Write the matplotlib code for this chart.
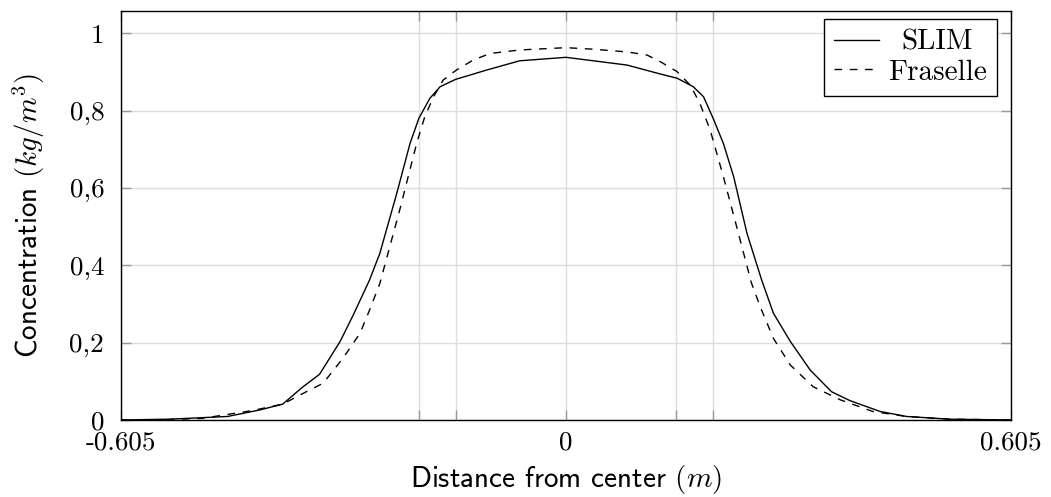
import matplotlib
matplotlib.use("Agg")
import matplotlib.pyplot as plt

# SLIM profile
slim_x = [-0.605, -0.54, -0.46, -0.416, -0.385, -0.358, -0.335, -0.307, -0.289, -0.267,
          -0.253, -0.230, -0.212, -0.200, -0.185, -0.171, -0.150, -0.108, -0.063, 0.0,
          0.083, 0.128, 0.151, 0.173, 0.187, 0.201, 0.214, 0.228, 0.246, 0.266,
          0.282, 0.305, 0.332, 0.361, 0.386, 0.427, 0.463, 0.522, 0.605]
slim_y = [0.0, 0.002, 0.009, 0.026, 0.041, 0.085, 0.118, 0.203, 0.272, 0.362,
          0.431, 0.586, 0.715, 0.780, 0.832, 0.862, 0.881, 0.905, 0.929, 0.938,
          0.918, 0.895, 0.884, 0.862, 0.836, 0.776, 0.715, 0.629, 0.483, 0.362,
          0.276, 0.203, 0.129, 0.073, 0.050, 0.022, 0.009, 0.002, 0.0]

# Fraselle profile
fras_x = [-0.605, -0.54, -0.495, -0.427, -0.385, -0.353, -0.330, -0.303, -0.280, -0.267,
          -0.253, -0.226, -0.203, -0.192, -0.180, -0.167, -0.149, -0.126, -0.103, -0.063,
          0.0, 0.037, 0.083, 0.110, 0.128, 0.151, 0.169, 0.182, 0.196, 0.214,
          0.232, 0.252, 0.264, 0.282, 0.305, 0.336, 0.373, 0.417, 0.463, 0.522, 0.605]
fras_y = [0.0, 0.001, 0.004, 0.024, 0.041, 0.073, 0.095, 0.160, 0.224, 0.284,
          0.353, 0.543, 0.715, 0.784, 0.836, 0.879, 0.905, 0.931, 0.948, 0.957,
          0.963, 0.959, 0.952, 0.944, 0.927, 0.901, 0.866, 0.819, 0.750, 0.629,
          0.500, 0.355, 0.293, 0.211, 0.142, 0.086, 0.052, 0.022, 0.009, 0.002, 0.0]

xticks = [-0.605, -0.2, -0.15, 0, 0.15, 0.2, 0.605]
xtick_labels = ["-0.605", "", "", "0", "", "", "0.605"]
yticks = [0, 0.2, 0.4, 0.6, 0.8, 1.0]
ytick_labels = ["0", "0,2", "0,4", "0,6", "0,8", "1"]

plt.rcParams["mathtext.fontset"] = "cm"
plt.rcParams["axes.unicode_minus"] = False

fig = plt.figure(figsize=(10.51, 4.97), dpi=100)
ax = fig.add_axes([0.115, 0.155, 0.847, 0.823])

ax.plot(slim_x, slim_y, color="black", lw=1.0, label="SLIM")
ax.plot(fras_x, fras_y, color="black", lw=1.0, ls=(0, (5.5, 5.5)), label="Fraselle")

ax.set_xlim(-0.605, 0.605)
ax.set_ylim(0, 1.058)
ax.set_xticks(xticks)
ax.set_xticklabels(xtick_labels, family="cmr10", fontsize=19.5)
ax.set_yticks(yticks)
ax.set_yticklabels(ytick_labels, family="cmr10", fontsize=19.5)
ax.tick_params(direction="in", length=7, width=1, color="#999999", labelcolor="black",
               top=True, right=True)
ax.tick_params(axis="x", pad=8)
ax.tick_params(axis="y", pad=12)
ax.grid(True, color="#dddddd", lw=1.0)
ax.set_axisbelow(True)
for s in ax.spines.values():
    s.set_linewidth(1.0)
    s.set_color("black")

ax.set_xlabel("Distance from center $(m)$", family="cmss10", fontsize=21, labelpad=6)
ax.set_ylabel("Concentration $(kg/m^3)$", family="cmss10", fontsize=21, labelpad=16)

leg = ax.legend(loc="upper right", bbox_to_anchor=(0.984, 0.98), borderaxespad=0,
                prop={"family": "cmr10", "size": 21}, fancybox=False, framealpha=1,
                edgecolor="black", handlelength=1.55, handletextpad=0.3,
                labelspacing=0.12, borderpad=0.35)
leg.get_frame().set_linewidth(1.0)

# centre the shorter entry like pgfplots does
fig.canvas.draw()
texts = leg.get_texts()
widths = [t.get_window_extent().width for t in texts]
for t, w in zip(texts, widths):
    t.set_x((max(widths) - w) / 2)

fig.savefig("out.png", dpi=100)
